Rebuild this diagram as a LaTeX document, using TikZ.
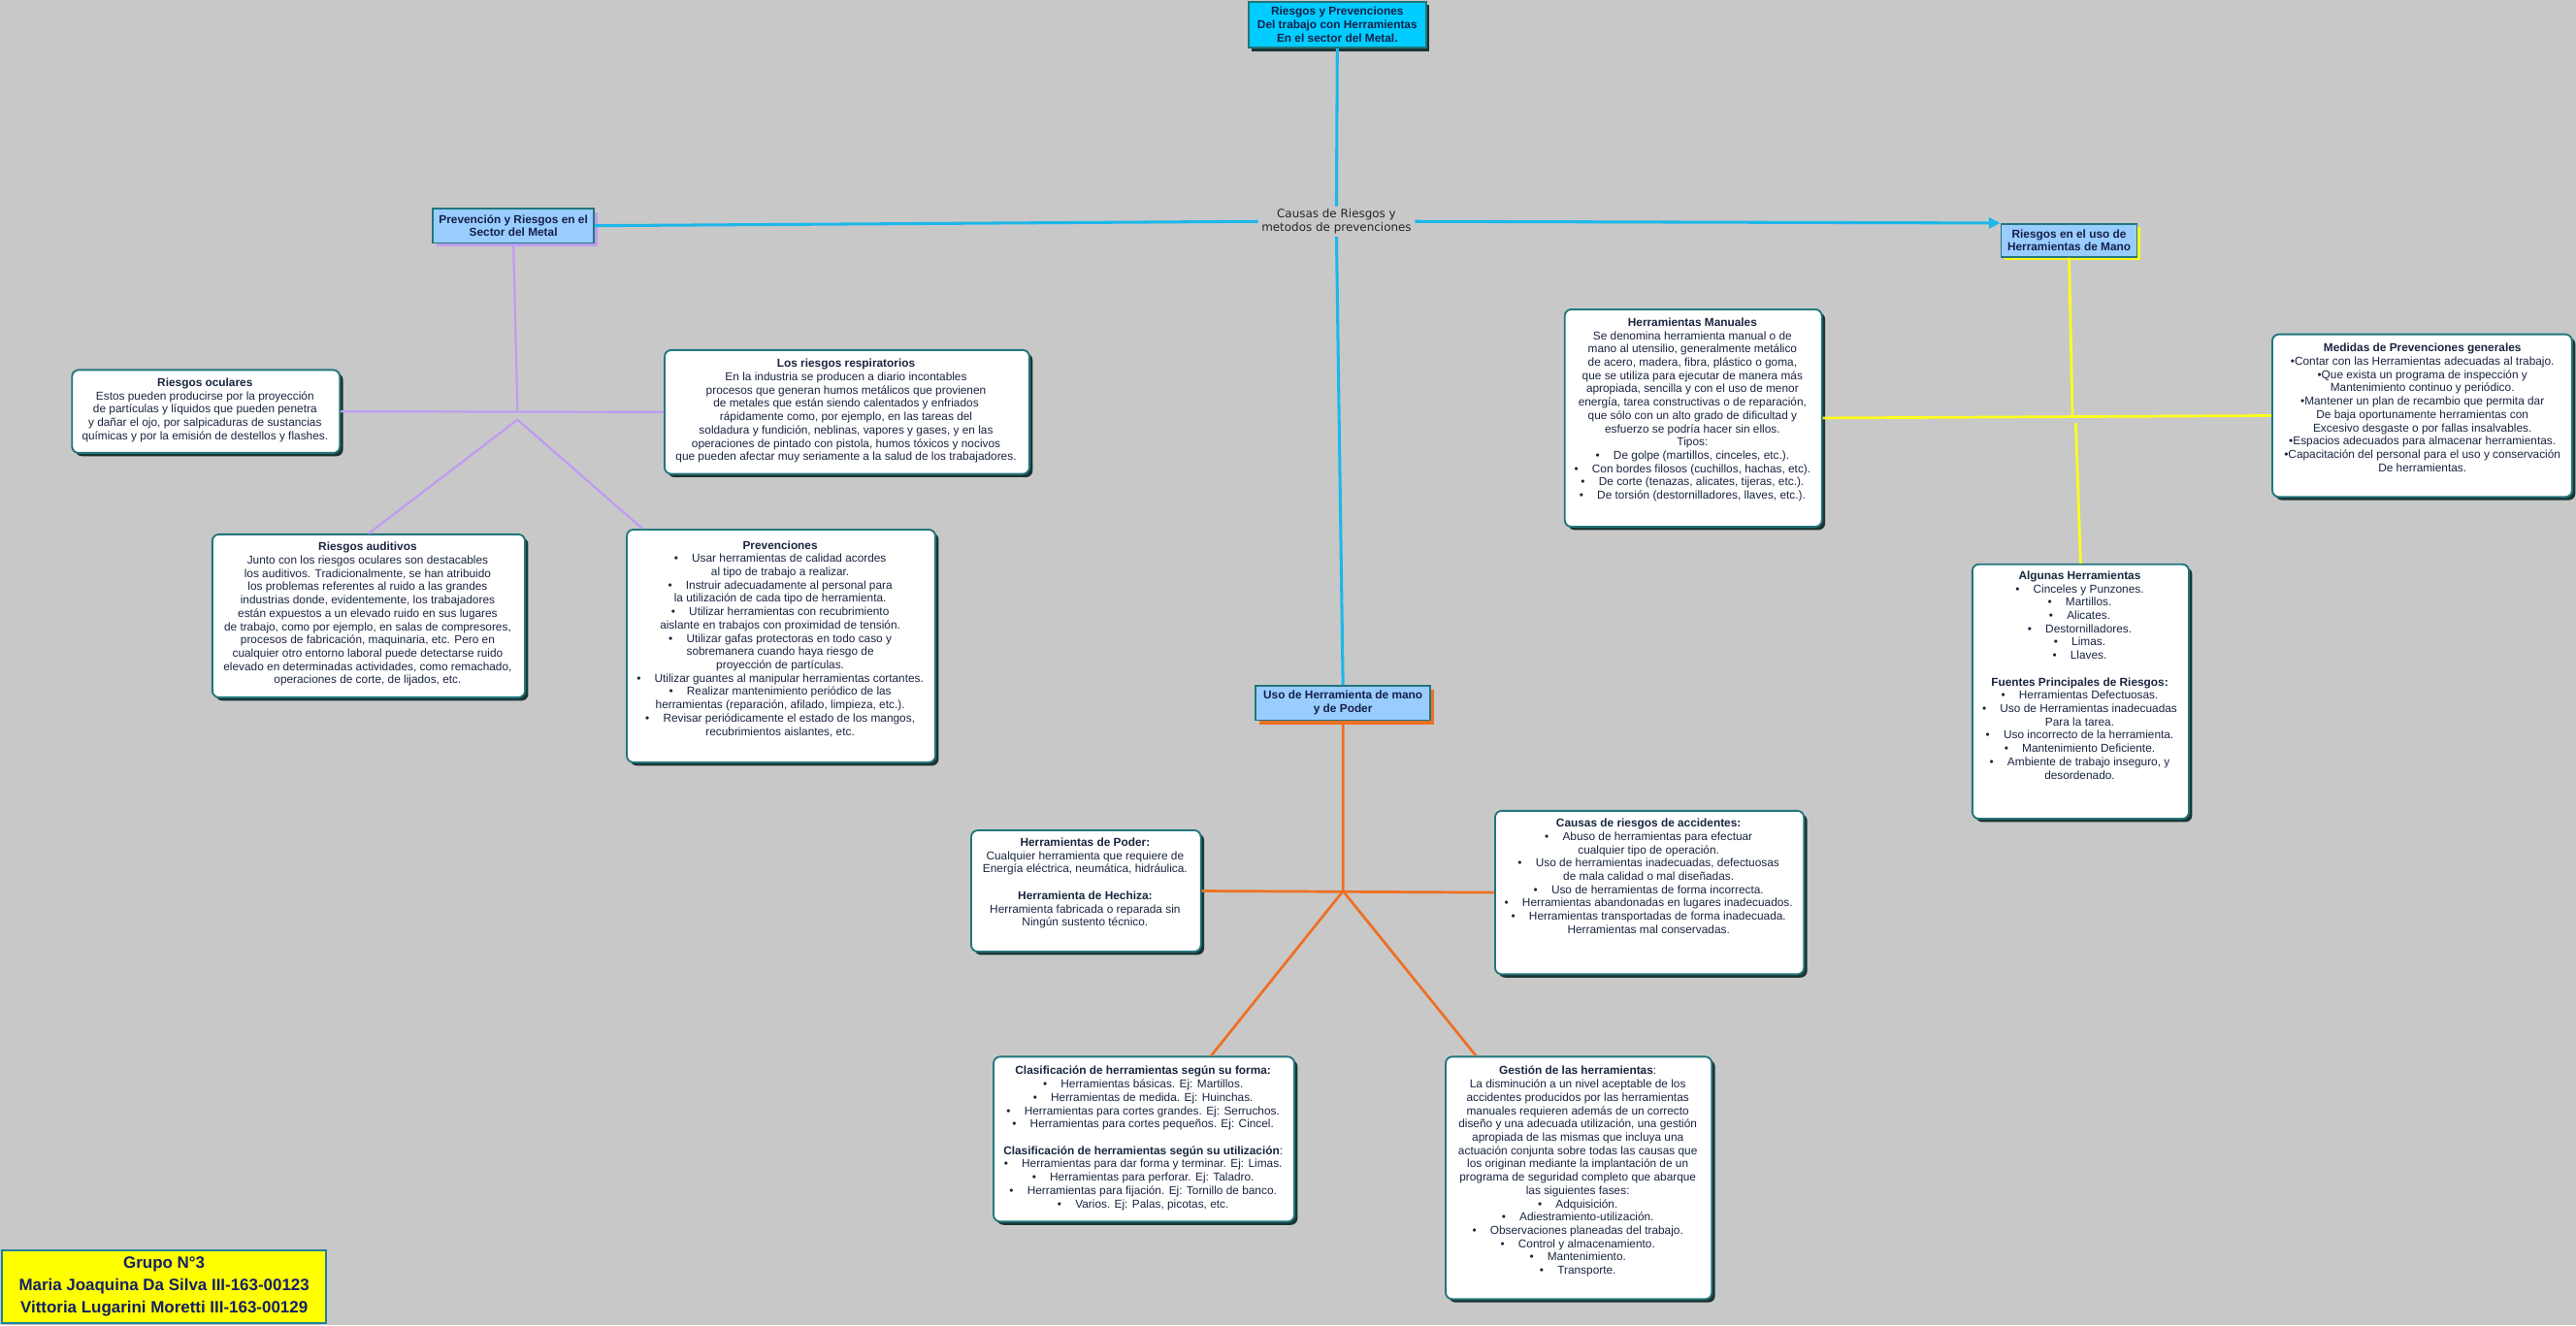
\documentclass[tikz,border=0pt]{standalone}
\usepackage{fontspec}
\setmainfont{Liberation Sans}
\newfontfamily\lblfont{DejaVu Sans}
\usetikzlibrary{shadows,arrows.meta,calc}
\definecolor{bgc}{HTML}{C8C8C8}
\definecolor{bordc}{HTML}{22767C}
\definecolor{shadc}{HTML}{1B3535}
\definecolor{titfill}{HTML}{00CCFF}
\definecolor{hdrfill}{HTML}{99CCFF}
\definecolor{textc}{HTML}{1A2540}
\definecolor{titc}{HTML}{152048}
\definecolor{cyanl}{HTML}{1DB7EA}
\definecolor{purpl}{HTML}{BF9BF2}
\definecolor{yell}{HTML}{FFFF1A}
\definecolor{oranl}{HTML}{EE7022}
\definecolor{grpfill}{HTML}{FFFF00}
\definecolor{grpbord}{HTML}{2080A0}
\definecolor{grptext}{HTML}{14206A}
\newcommand\bulx{\textbullet\hspace{1.2em}}
\begin{document}
\begin{tikzpicture}[x=1pt,y=-1pt,
  box/.style={draw=bordc, line width=1.1pt, fill=white, rounded corners=4pt,
    anchor=north west, inner sep=0pt,
    general shadow={fill=shadc, shadow xshift=2pt, shadow yshift=-2pt}},
  txt/.style={font=\fontsize{7}{8.1}\selectfont, align=center, anchor=north, inner sep=0pt, text=textc},
  hdr/.style={draw=bordc, line width=1pt, fill=hdrfill, anchor=north west,
    inner sep=0pt, align=center, text=titc, font=\fontsize{7}{8.1}\selectfont\bfseries},
  cyanline/.style={draw=cyanl, line width=1.8pt},
  purpline/.style={draw=purpl, line width=1.3pt},
  yelline/.style={draw=yell, line width=1.6pt},
  oranline/.style={draw=oranl, line width=1.6pt}]
\fill[bgc] (0,0) rectangle (1568,807);
\useasboundingbox (0,0) rectangle (1568,807);

% ---------- headers ----------
\node[hdr, fill=titfill, minimum width=108pt, minimum height=28pt,
  font=\fontsize{7}{8.3}\selectfont\bfseries,
  general shadow={fill=shadc, shadow xshift=2pt, shadow yshift=-2.2pt}] (title) at (759.5,0.5)
  {Riesgos y Prevenciones\\Del trabajo con Herramientas\\En el sector del Metal.};
\node[hdr, minimum width=98pt, minimum height=21pt,
  general shadow={fill=purpl, shadow xshift=2.2pt, shadow yshift=-2.2pt}] (prevh) at (263,126.4)
  {Prevención y Riesgos en el\\Sector del Metal};
\node[hdr, minimum width=82.7pt, minimum height=20.1pt,
  general shadow={fill=yell, shadow xshift=2pt, shadow yshift=-2pt}] (rusoh) at (1217.6,135.8)
  {Riesgos en el uso de\\Herramientas de Mano};
\node[hdr, minimum width=106.3pt, minimum height=21pt,
  general shadow={fill=oranl, shadow xshift=2.4pt, shadow yshift=-2.4pt}] (usoh) at (763.8,417)
  {Uso de Herramienta de mano\\y de Poder};

\node[font=\lblfont\fontsize{7.05}{8.3}\selectfont, align=center, text=black!85,
  inner xsep=2pt, inner ysep=1.5pt] (lbl) at (813.5,134.8)
  {Causas de Riesgos y\\metodos de prevenciones};

% ---------- boxes ----------
\node[box, minimum width=163pt, minimum height=50.5pt] (ocul) at (43.3,224.7) {};
\node[box, minimum width=222pt, minimum height=75.4pt] (resp) at (404,212.6) {};
\node[box, minimum width=190.3pt, minimum height=99.2pt] (audi) at (128.7,324.8) {};
\node[box, minimum width=187.8pt, minimum height=141.7pt] (prev) at (381,321.9) {};
\node[box, minimum width=156.5pt, minimum height=132.3pt] (hman) at (951.9,187.8) {};
\node[box, minimum width=182.4pt, minimum height=99pt] (medi) at (1382.6,203) {};
\node[box, minimum width=131.8pt, minimum height=154.9pt] (algu) at (1200,343) {};
\node[box, minimum width=139.8pt, minimum height=73.8pt] (hpod) at (590.6,505) {};
\node[box, minimum width=188pt, minimum height=99.5pt] (caus) at (909.5,493.1) {};
\node[box, minimum width=183.1pt, minimum height=100.4pt] (clas) at (604.2,642.8) {};
\node[box, minimum width=162pt, minimum height=147.6pt] (gest) at (879.4,642.8) {};

% ---------- connectors ----------
\coordinate (pj) at (315,249.5);
\coordinate (pv) at (315,255.5);
\draw[purpline] (prevh.south) -- (pj);
\draw[purpline] (ocul.east) -- (resp.west);
\draw[purpline] (pv) -- (audi.north);
\draw[purpline] (pv) -- ([xshift=10pt]prev.north west);

\coordinate (yj) at (1261.5,253);
\coordinate (yv) at (1263.5,257.5);
\draw[yelline] (rusoh.south) -- (yj);
\draw[yelline] (hman.east) -- (medi.west);
\draw[yelline] (yv) -- (algu.north);

\coordinate (oj) at (817.5,542.5);
\draw[oranline] (usoh.south) -- (oj);
\draw[oranline] (hpod.east) -- (caus.west);
\draw[oranline] (oj) -- ([xshift=133pt]clas.north west);
\draw[oranline] (oj) -- ([xshift=19pt]gest.north west);

\draw[cyanline] (title.south) -- (lbl.north);
\draw[cyanline] (lbl.south) -- (usoh.north);
\draw[cyanline] (prevh.east) -- (lbl.west);
\draw[cyanline, -{Triangle[length=7pt,width=6.5pt]}] (lbl.east) -- (rusoh.north west);

% ---------- texts ----------
\node[txt] (ocul-t) at (124.8,230) {\textbf{Riesgos oculares}\\
Estos pueden producirse por la proyección\\
de partículas y líquidos que pueden penetra\\
y dañar el ojo, por salpicaduras de sustancias\\
químicas y por la emisión de destellos y flashes.};

\node[txt] (resp-t) at (515,218.4) {\textbf{Los riesgos respiratorios}\\
En la industria se producen a diario incontables\\
procesos que generan humos metálicos que provienen\\
de metales que están siendo calentados y enfriados\\
rápidamente como, por ejemplo, en las tareas del\\
soldadura y fundición, neblinas, vapores y gases, y en las\\
operaciones de pintado con pistola, humos tóxicos y nocivos\\
que pueden afectar muy seriamente a la salud de los trabajadores.};

\node[txt] (audi-t) at (223.8,330) {\textbf{Riesgos auditivos}\\
Junto con los riesgos oculares son destacables\\
los auditivos. Tradicionalmente, se han atribuido\\
los problemas referentes al ruido a las grandes\\
industrias donde, evidentemente, los trabajadores\\
están expuestos a un elevado ruido en sus lugares\\
de trabajo, como por ejemplo, en salas de compresores,\\
procesos de fabricación, maquinaria, etc. Pero en\\
cualquier otro entorno laboral puede detectarse ruido\\
elevado en determinadas actividades, como remachado,\\
operaciones de corte, de lijados, etc.};

\node[txt] (prev-t) at (474.9,329) {\textbf{Prevenciones}\\
\bulx Usar herramientas de calidad acordes\\
al tipo de trabajo a realizar.\\
\bulx Instruir adecuadamente al personal para\\
la utilización de cada tipo de herramienta.\\
\bulx Utilizar herramientas con recubrimiento\\
aislante en trabajos con proximidad de tensión.\\
\bulx Utilizar gafas protectoras en todo caso y\\
sobremanera cuando haya riesgo de\\
proyección de partículas.\\
\bulx Utilizar guantes al manipular herramientas cortantes.\\
\bulx Realizar mantenimiento periódico de las\\
herramientas (reparación, afilado, limpieza, etc.).\\
\bulx Revisar periódicamente el estado de los mangos,\\
recubrimientos aislantes, etc.};

\node[txt] (hman-t) at (1030.2,193.4) {\textbf{Herramientas Manuales}\\
Se denomina herramienta manual o de\\
mano al utensilio, generalmente metálico\\
de acero, madera, fibra, plástico o goma,\\
que se utiliza para ejecutar de manera más\\
apropiada, sencilla y con el uso de menor\\
energía, tarea constructivas o de reparación,\\
que sólo con un alto grado de dificultad y\\
esfuerzo se podría hacer sin ellos.\\
Tipos:\\
\bulx De golpe (martillos, cinceles, etc.).\\
\bulx Con bordes filosos (cuchillos, hachas, etc).\\
\bulx De corte (tenazas, alicates, tijeras, etc.).\\
\bulx De torsión (destornilladores, llaves, etc.).};

\node[txt] (medi-t) at (1474.5,209) {\textbf{Medidas de Prevenciones generales}\\
•Contar con las Herramientas adecuadas al trabajo.\\
•Que exista un programa de inspección y\\
Mantenimiento continuo y periódico.\\
•Mantener un plan de recambio que permita dar\\
De baja oportunamente herramientas con\\
Excesivo desgaste o por fallas insalvables.\\
•Espacios adecuados para almacenar herramientas.\\
•Capacitación del personal para el uso y conservación\\
De herramientas.};

\node[txt] (algu-t) at (1265.9,347.5) {\textbf{Algunas Herramientas}\\
\bulx Cinceles y Punzones.\\
\bulx Martillos.\\
\bulx Alicates.\\
\bulx Destornilladores.\\
\bulx Limas.\\
\bulx Llaves.\\
\mbox{}\\
\textbf{Fuentes Principales de Riesgos:}\\
\bulx Herramientas Defectuosas.\\
\bulx Uso de Herramientas inadecuadas\\
Para la tarea.\\
\bulx Uso incorrecto de la herramienta.\\
\bulx Mantenimiento Deficiente.\\
\bulx Ambiente de trabajo inseguro, y\\
desordenado.};

\node[txt] (hpod-t) at (660.5,510) {\textbf{Herramientas de Poder:}\\
Cualquier herramienta que requiere de\\
Energía eléctrica, neumática, hidráulica.\\
\mbox{}\\
\textbf{Herramienta de Hechiza:}\\
Herramienta fabricada o reparada sin\\
Ningún sustento técnico.};

\node[txt] (caus-t) at (1003.5,498.3) {\textbf{Causas de riesgos de accidentes:}\\
\bulx Abuso de herramientas para efectuar\\
cualquier tipo de operación.\\
\bulx Uso de herramientas inadecuadas, defectuosas\\
de mala calidad o mal diseñadas.\\
\bulx Uso de herramientas de forma incorrecta.\\
\bulx Herramientas abandonadas en lugares inadecuados.\\
\bulx Herramientas transportadas de forma inadecuada.\\
Herramientas mal conservadas.};

\node[txt] (clas-t) at (695.8,649) {\textbf{Clasificación de herramientas según su forma:}\\
\bulx Herramientas básicas. Ej: Martillos.\\
\bulx Herramientas de medida. Ej: Huinchas.\\
\bulx Herramientas para cortes grandes. Ej: Serruchos.\\
\bulx Herramientas para cortes pequeños. Ej: Cincel.\\
\mbox{}\\
\textbf{Clasificación de herramientas según su utilización}:\\
\bulx Herramientas para dar forma y terminar. Ej: Limas.\\
\bulx Herramientas para perforar. Ej: Taladro.\\
\bulx Herramientas para fijación. Ej: Tornillo de banco.\\
\bulx Varios. Ej: Palas, picotas, etc.};

\node[txt] (gest-t) at (960.4,649) {\textbf{Gestión de las herramientas}:\\
La disminución a un nivel aceptable de los\\
accidentes producidos por las herramientas\\
manuales requieren además de un correcto\\
diseño y una adecuada utilización, una gestión\\
apropiada de las mismas que incluya una\\
actuación conjunta sobre todas las causas que\\
los originan mediante la implantación de un\\
programa de seguridad completo que abarque\\
las siguientes fases:\\
\bulx Adquisición.\\
\bulx Adiestramiento-utilización.\\
\bulx Observaciones planeadas del trabajo.\\
\bulx Control y almacenamiento.\\
\bulx Mantenimiento.\\
\bulx Transporte.};

% ---------- group ----------
\node[draw=grpbord, line width=1.2pt, fill=grpfill, anchor=north west,
  minimum width=197pt, minimum height=44.5pt, inner sep=0pt, align=center,
  text=grptext, font=\fontsize{10}{13.5}\selectfont\bfseries] (grp) at (0.8,760.5)
  {Grupo N°3\\Maria Joaquina Da Silva III-163-00123\\Vittoria Lugarini Moretti III-163-00129};
\end{tikzpicture}
\end{document}
